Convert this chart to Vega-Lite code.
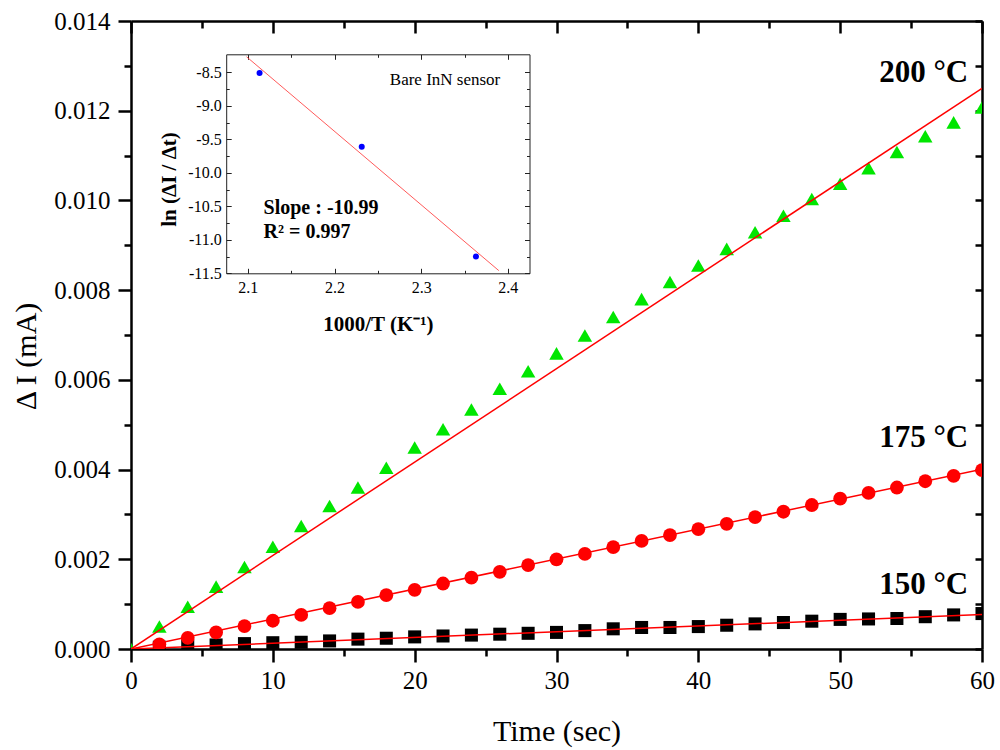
{
  "$schema": "https://vega.github.io/schema/vega-lite/v6.json",
  "width": 851,
  "height": 628,
  "autosize": {"type": "none"},
  "padding": {"left": 131, "top": 21, "right": 18, "bottom": 101},
  "background": "white",
  "config": {
    "view": {"stroke": null},
    "font": "Liberation Serif",
    "axis": {"labelFont": "Liberation Serif", "titleFont": "Liberation Serif"},
    "text": {"font": "Liberation Serif"}
  },
  "datasets": {
    "main": [
      {"t": 2, "dI": 0.00004, "temp": "150 °C"}, {"t": 4, "dI": 0.00007, "temp": "150 °C"},
      {"t": 6, "dI": 0.00009, "temp": "150 °C"}, {"t": 8, "dI": 0.00012, "temp": "150 °C"}, {"t": 10, "dI": 0.00014, "temp": "150 °C"},
      {"t": 12, "dI": 0.00015, "temp": "150 °C"}, {"t": 14, "dI": 0.00018, "temp": "150 °C"}, {"t": 16, "dI": 0.00022, "temp": "150 °C"},
      {"t": 18, "dI": 0.00024, "temp": "150 °C"}, {"t": 20, "dI": 0.00027, "temp": "150 °C"}, {"t": 22, "dI": 0.00029, "temp": "150 °C"},
      {"t": 24, "dI": 0.00031, "temp": "150 °C"}, {"t": 26, "dI": 0.00033, "temp": "150 °C"}, {"t": 28, "dI": 0.00035, "temp": "150 °C"},
      {"t": 30, "dI": 0.00037, "temp": "150 °C"}, {"t": 32, "dI": 0.00041, "temp": "150 °C"}, {"t": 34, "dI": 0.00045, "temp": "150 °C"},
      {"t": 36, "dI": 0.00048, "temp": "150 °C"}, {"t": 38, "dI": 0.00048, "temp": "150 °C"}, {"t": 40, "dI": 0.0005, "temp": "150 °C"},
      {"t": 42, "dI": 0.00053, "temp": "150 °C"}, {"t": 44, "dI": 0.00056, "temp": "150 °C"}, {"t": 46, "dI": 0.00059, "temp": "150 °C"},
      {"t": 48, "dI": 0.00062, "temp": "150 °C"}, {"t": 50, "dI": 0.00066, "temp": "150 °C"}, {"t": 52, "dI": 0.00067, "temp": "150 °C"},
      {"t": 54, "dI": 0.00068, "temp": "150 °C"}, {"t": 56, "dI": 0.00072, "temp": "150 °C"}, {"t": 58, "dI": 0.00076, "temp": "150 °C"},
      {"t": 60, "dI": 0.00079, "temp": "150 °C"},
      {"t": 2, "dI": 0.000105, "temp": "175 °C"}, {"t": 4, "dI": 0.00025, "temp": "175 °C"},
      {"t": 6, "dI": 0.00037, "temp": "175 °C"}, {"t": 8, "dI": 0.00051, "temp": "175 °C"}, {"t": 10, "dI": 0.00063, "temp": "175 °C"},
      {"t": 12, "dI": 0.00076, "temp": "175 °C"}, {"t": 14, "dI": 0.00091, "temp": "175 °C"}, {"t": 16, "dI": 0.00105, "temp": "175 °C"},
      {"t": 18, "dI": 0.0012, "temp": "175 °C"}, {"t": 20, "dI": 0.00132, "temp": "175 °C"}, {"t": 22, "dI": 0.00146, "temp": "175 °C"},
      {"t": 24, "dI": 0.00159, "temp": "175 °C"}, {"t": 26, "dI": 0.00172, "temp": "175 °C"}, {"t": 28, "dI": 0.00187, "temp": "175 °C"},
      {"t": 30, "dI": 0.002, "temp": "175 °C"}, {"t": 32, "dI": 0.00212, "temp": "175 °C"}, {"t": 34, "dI": 0.00227, "temp": "175 °C"},
      {"t": 36, "dI": 0.00241, "temp": "175 °C"}, {"t": 38, "dI": 0.00254, "temp": "175 °C"}, {"t": 40, "dI": 0.00267, "temp": "175 °C"},
      {"t": 42, "dI": 0.00279, "temp": "175 °C"}, {"t": 44, "dI": 0.00294, "temp": "175 °C"}, {"t": 46, "dI": 0.00306, "temp": "175 °C"},
      {"t": 48, "dI": 0.00321, "temp": "175 °C"}, {"t": 50, "dI": 0.00335, "temp": "175 °C"}, {"t": 52, "dI": 0.00348, "temp": "175 °C"},
      {"t": 54, "dI": 0.0036, "temp": "175 °C"}, {"t": 56, "dI": 0.00374, "temp": "175 °C"}, {"t": 58, "dI": 0.00386, "temp": "175 °C"},
      {"t": 60, "dI": 0.00399, "temp": "175 °C"},
      {"t": 0, "dI": 0, "temp": "200 °C"}, {"t": 2, "dI": 0.0005, "temp": "200 °C"}, {"t": 4, "dI": 0.00094, "temp": "200 °C"},
      {"t": 6, "dI": 0.00139, "temp": "200 °C"}, {"t": 8, "dI": 0.00183, "temp": "200 °C"}, {"t": 10, "dI": 0.00228, "temp": "200 °C"},
      {"t": 12, "dI": 0.00274, "temp": "200 °C"}, {"t": 14, "dI": 0.00319, "temp": "200 °C"}, {"t": 16, "dI": 0.0036, "temp": "200 °C"},
      {"t": 18, "dI": 0.00404, "temp": "200 °C"}, {"t": 20, "dI": 0.00449, "temp": "200 °C"}, {"t": 22, "dI": 0.0049, "temp": "200 °C"},
      {"t": 24, "dI": 0.00534, "temp": "200 °C"}, {"t": 26, "dI": 0.0058, "temp": "200 °C"}, {"t": 28, "dI": 0.00619, "temp": "200 °C"},
      {"t": 30, "dI": 0.00659, "temp": "200 °C"}, {"t": 32, "dI": 0.00699, "temp": "200 °C"}, {"t": 34, "dI": 0.0074, "temp": "200 °C"},
      {"t": 36, "dI": 0.0078, "temp": "200 °C"}, {"t": 38, "dI": 0.00818, "temp": "200 °C"}, {"t": 40, "dI": 0.00855, "temp": "200 °C"},
      {"t": 42, "dI": 0.00892, "temp": "200 °C"}, {"t": 44, "dI": 0.00929, "temp": "200 °C"}, {"t": 46, "dI": 0.00966, "temp": "200 °C"},
      {"t": 48, "dI": 0.01003, "temp": "200 °C"}, {"t": 50, "dI": 0.01037, "temp": "200 °C"}, {"t": 52, "dI": 0.01072, "temp": "200 °C"},
      {"t": 54, "dI": 0.01108, "temp": "200 °C"}, {"t": 56, "dI": 0.01143, "temp": "200 °C"}, {"t": 58, "dI": 0.01174, "temp": "200 °C"},
      {"t": 60, "dI": 0.01207, "temp": "200 °C"}
    ],
    "fits": [
      {"t": 0, "dI": 0, "temp": "150 °C"}, {"t": 60, "dI": 0.00077, "temp": "150 °C"},
      {"t": 0, "dI": 0, "temp": "175 °C"}, {"t": 60, "dI": 0.00401, "temp": "175 °C"},
      {"t": 0, "dI": 0, "temp": "200 °C"}, {"t": 60, "dI": 0.0125, "temp": "200 °C"}
    ],
    "tempLabels": [
      {"t": 59.03, "dI": 0.012647, "label": "200 °C"},
      {"t": 59.03, "dI": 0.004496, "label": "175 °C"},
      {"t": 59.03, "dI": 0.001226, "label": "150 °C"}
    ],
    "arrhenius": [
      {"inv": 2.1135, "lnRate": -8.51},
      {"inv": 2.2314, "lnRate": -9.61},
      {"inv": 2.3632, "lnRate": -11.25}
    ],
    "arrFit": [
      {"inv": 2.0985, "lnRate": -8.267},
      {"inv": 2.3896, "lnRate": -11.46}
    ]
  },
  "resolve": {"scale": {"x": "independent", "y": "independent"}},
  "layer": [
    {
      "data": {"name": "main"},
      "mark": {"type": "point", "filled": true, "opacity": 1, "clip": true},
      "encoding": {
        "x": {
          "field": "t", "type": "quantitative",
          "scale": {"domain": [0, 60], "nice": false, "zero": false},
          "axis": {
            "orient": "bottom", "grid": false,
            "values": [0, 5, 10, 15, 20, 25, 30, 35, 40, 45, 50, 55, 60],
            "labelExpr": "datum.value % 10 === 0 ? datum.label : ''",
            "tickSize": {"condition": {"test": "datum.value % 10 !== 0", "value": 7}, "value": 13},
            "tickWidth": 2.5, "tickColor": "black", "domainWidth": 2.5, "domainColor": "black",
            "labelFont": "Liberation Serif", "labelFontSize": 25, "labelColor": "black", "labelPadding": 6,
            "labelFlush": false, "labelOverlap": false,
            "title": "Time (sec)", "titleFont": "Liberation Serif", "titleFontSize": 30,
            "titleFontWeight": "normal", "titleColor": "black", "titlePadding": 23
          }
        },
        "y": {
          "field": "dI", "type": "quantitative",
          "scale": {"domain": [0, 0.014], "nice": false, "zero": false},
          "axis": {
            "orient": "left", "grid": false,
            "values": [0, 0.001, 0.002, 0.003, 0.004, 0.005, 0.006, 0.007, 0.008, 0.009, 0.01, 0.011, 0.012, 0.013, 0.014],
            "labelExpr": "round(datum.value * 1000) % 2 === 0 ? format(datum.value, '.3f') : ''",
            "tickSize": {"condition": {"test": "round(datum.value * 1000) % 2 !== 0", "value": 7}, "value": 13},
            "tickWidth": 2.5, "tickColor": "black", "domainWidth": 2.5, "domainColor": "black",
            "labelFont": "Liberation Serif", "labelFontSize": 25, "labelColor": "black", "labelPadding": 8,
            "labelFlush": false, "labelOverlap": false,
            "title": "Δ I (mA)", "titleFont": "Liberation Serif", "titleFontSize": 30,
            "titleFontWeight": "normal", "titleColor": "black", "titlePadding": 12, "titleY": 335
          }
        },
        "shape": {"field": "temp", "type": "nominal", "legend": null,
          "scale": {"domain": ["150 °C", "175 °C", "200 °C"], "range": ["square", "circle", "triangle-up"]}},
        "color": {"field": "temp", "type": "nominal", "legend": null,
          "scale": {"domain": ["150 °C", "175 °C", "200 °C"], "range": ["#000000", "#ff0000", "#00e600"]}},
        "size": {"field": "temp", "type": "nominal", "legend": null,
          "scale": {"domain": ["150 °C", "175 °C", "200 °C"], "range": [170, 210, 380]}}
      }
    },
    {
      "layer": [
        {
          "data": {"name": "fits"},
          "mark": {"type": "line", "color": "#ff0000", "strokeWidth": 1.5, "clip": true},
          "encoding": {
            "x": {
              "field": "t", "type": "quantitative",
              "scale": {"domain": [0, 60], "nice": false, "zero": false},
              "axis": {
                "orient": "top", "grid": false, "labels": false, "title": null,
                "values": [0, 5, 10, 15, 20, 25, 30, 35, 40, 45, 50, 55, 60],
                "tickSize": {"condition": {"test": "datum.value % 10 !== 0", "value": -7}, "value": -12},
                "tickWidth": 2.5, "tickColor": "black", "domainWidth": 2.5, "domainColor": "black"
              }
            },
            "y": {
              "field": "dI", "type": "quantitative",
              "scale": {"domain": [0, 0.014], "nice": false, "zero": false},
              "axis": {
                "orient": "right", "grid": false, "labels": false, "title": null,
                "values": [0, 0.001, 0.002, 0.003, 0.004, 0.005, 0.006, 0.007, 0.008, 0.009, 0.01, 0.011, 0.012, 0.013, 0.014],
                "tickSize": -7,
                "tickWidth": 2.5, "tickColor": "black", "domainWidth": 2.5, "domainColor": "black"
              }
            },
            "detail": {"field": "temp", "type": "nominal"}
          }
        },
        {
          "data": {"name": "tempLabels"},
          "mark": {"type": "text", "align": "right", "baseline": "alphabetic", "font": "Liberation Serif",
            "fontSize": 31, "fontWeight": "bold", "color": "black"},
          "encoding": {
            "x": {"field": "t", "type": "quantitative", "scale": {"domain": [0, 60], "nice": false, "zero": false}},
            "y": {"field": "dI", "type": "quantitative", "scale": {"domain": [0, 0.014], "nice": false, "zero": false}},
            "text": {"field": "label"}
          }
        }
      ]
    },
    {
      "data": {"name": "arrhenius"},
      "mark": {"type": "circle", "color": "#0000ff", "size": 36, "opacity": 1},
      "encoding": {
        "x": {
          "field": "inv", "type": "quantitative",
          "scale": {"domain": [2.075, 2.425], "range": [95.2, 398.5], "nice": false, "zero": false},
          "axis": {
            "orient": "bottom", "offset": -375.7, "grid": false,
            "values": [2.1, 2.15, 2.2, 2.25, 2.3, 2.35, 2.4],
            "labelExpr": "round(datum.value * 100) % 10 === 0 ? format(datum.value, '.1f') : ''",
            "tickSize": {"condition": {"test": "round(datum.value * 100) % 10 !== 0", "value": -3}, "value": -5},
            "tickWidth": 1, "tickColor": "#222222", "domainWidth": 1, "domainColor": "#222222",
            "labelFont": "Liberation Serif", "labelFontSize": 16, "labelColor": "black", "labelPadding": 11,
            "labelFlush": false, "labelOverlap": false,
            "title": "1000/T (K⁻¹)", "titleFont": "Liberation Serif", "titleFontSize": 21,
            "titleFontWeight": "bold", "titleColor": "black", "titlePadding": 16
          }
        },
        "y": {
          "field": "lnRate", "type": "quantitative",
          "scale": {"domain": [-11.5, -8.23], "range": [252.3, 33.3], "nice": false, "zero": false},
          "axis": {
            "orient": "left", "offset": -95.2, "grid": false,
            "values": [-11.5, -11.25, -11, -10.75, -10.5, -10.25, -10, -9.75, -9.5, -9.25, -9, -8.75, -8.5],
            "labelExpr": "abs(round(datum.value * 100)) % 50 === 0 ? replace(format(datum.value, '.1f'), '−', '-') : ''",
            "tickSize": {"condition": {"test": "abs(round(datum.value * 100)) % 50 !== 0", "value": -3}, "value": -5},
            "tickWidth": 1, "tickColor": "#222222", "domainWidth": 1, "domainColor": "#222222",
            "labelFont": "Liberation Serif", "labelFontSize": 16, "labelColor": "black", "labelPadding": 10,
            "labelFlush": false, "labelOverlap": false,
            "title": "ln (ΔI / Δt)", "titleFont": "Liberation Serif", "titleFontSize": 21,
            "titleFontWeight": "bold", "titleColor": "black", "titlePadding": 8, "titleY": 158
          }
        }
      }
    },
    {
      "layer": [
        {
          "data": {"name": "arrFit"},
          "mark": {"type": "line", "color": "#ff3030", "strokeWidth": 0.8},
          "encoding": {
            "x": {
              "field": "inv", "type": "quantitative",
              "scale": {"domain": [2.075, 2.425], "range": [95.2, 398.5], "nice": false, "zero": false},
              "axis": {
                "orient": "top", "offset": -33.3, "grid": false, "labels": false, "title": null,
                "values": [2.1, 2.15, 2.2, 2.25, 2.3, 2.35, 2.4],
                "tickSize": {"condition": {"test": "round(datum.value * 100) % 10 !== 0", "value": -3}, "value": -5},
                "tickWidth": 1, "tickColor": "#222222", "domainWidth": 1, "domainColor": "#222222"
              }
            },
            "y": {
              "field": "lnRate", "type": "quantitative",
              "scale": {"domain": [-11.5, -8.23], "range": [252.3, 33.3], "nice": false, "zero": false},
              "axis": {
                "orient": "right", "offset": -452.5, "grid": false, "labels": false, "title": null,
                "values": [-11.5, -11.25, -11, -10.75, -10.5, -10.25, -10, -9.75, -9.5, -9.25, -9, -8.75, -8.5],
                "tickSize": {"condition": {"test": "abs(round(datum.value * 100)) % 50 !== 0", "value": -3}, "value": -5},
                "tickWidth": 1, "tickColor": "#222222", "domainWidth": 1, "domainColor": "#222222"
              }
            }
          }
        },
        {
          "data": {"values": [{"inv": 2.2638, "lnRate": -8.69, "note": "Bare InN sensor"}]},
          "mark": {"type": "text", "align": "left", "baseline": "alphabetic", "font": "Liberation Serif",
            "fontSize": 17, "color": "black"},
          "encoding": {
            "x": {"field": "inv", "type": "quantitative", "scale": {"domain": [2.075, 2.425], "range": [95.2, 398.5], "nice": false, "zero": false}},
            "y": {"field": "lnRate", "type": "quantitative", "scale": {"domain": [-11.5, -8.23], "range": [252.3, 33.3], "nice": false, "zero": false}},
            "text": {"field": "note"}
          }
        },
        {
          "data": {"values": [
            {"inv": 2.1181, "lnRate": -10.615, "note": "Slope : -10.99"},
            {"inv": 2.1181, "lnRate": -10.978, "note": "R² = 0.997"}
          ]},
          "mark": {"type": "text", "align": "left", "baseline": "alphabetic", "font": "Liberation Serif",
            "fontSize": 20, "fontWeight": "bold", "color": "black"},
          "encoding": {
            "x": {"field": "inv", "type": "quantitative", "scale": {"domain": [2.075, 2.425], "range": [95.2, 398.5], "nice": false, "zero": false}},
            "y": {"field": "lnRate", "type": "quantitative", "scale": {"domain": [-11.5, -8.23], "range": [252.3, 33.3], "nice": false, "zero": false}},
            "text": {"field": "note"}
          }
        }
      ]
    }
  ]
}
